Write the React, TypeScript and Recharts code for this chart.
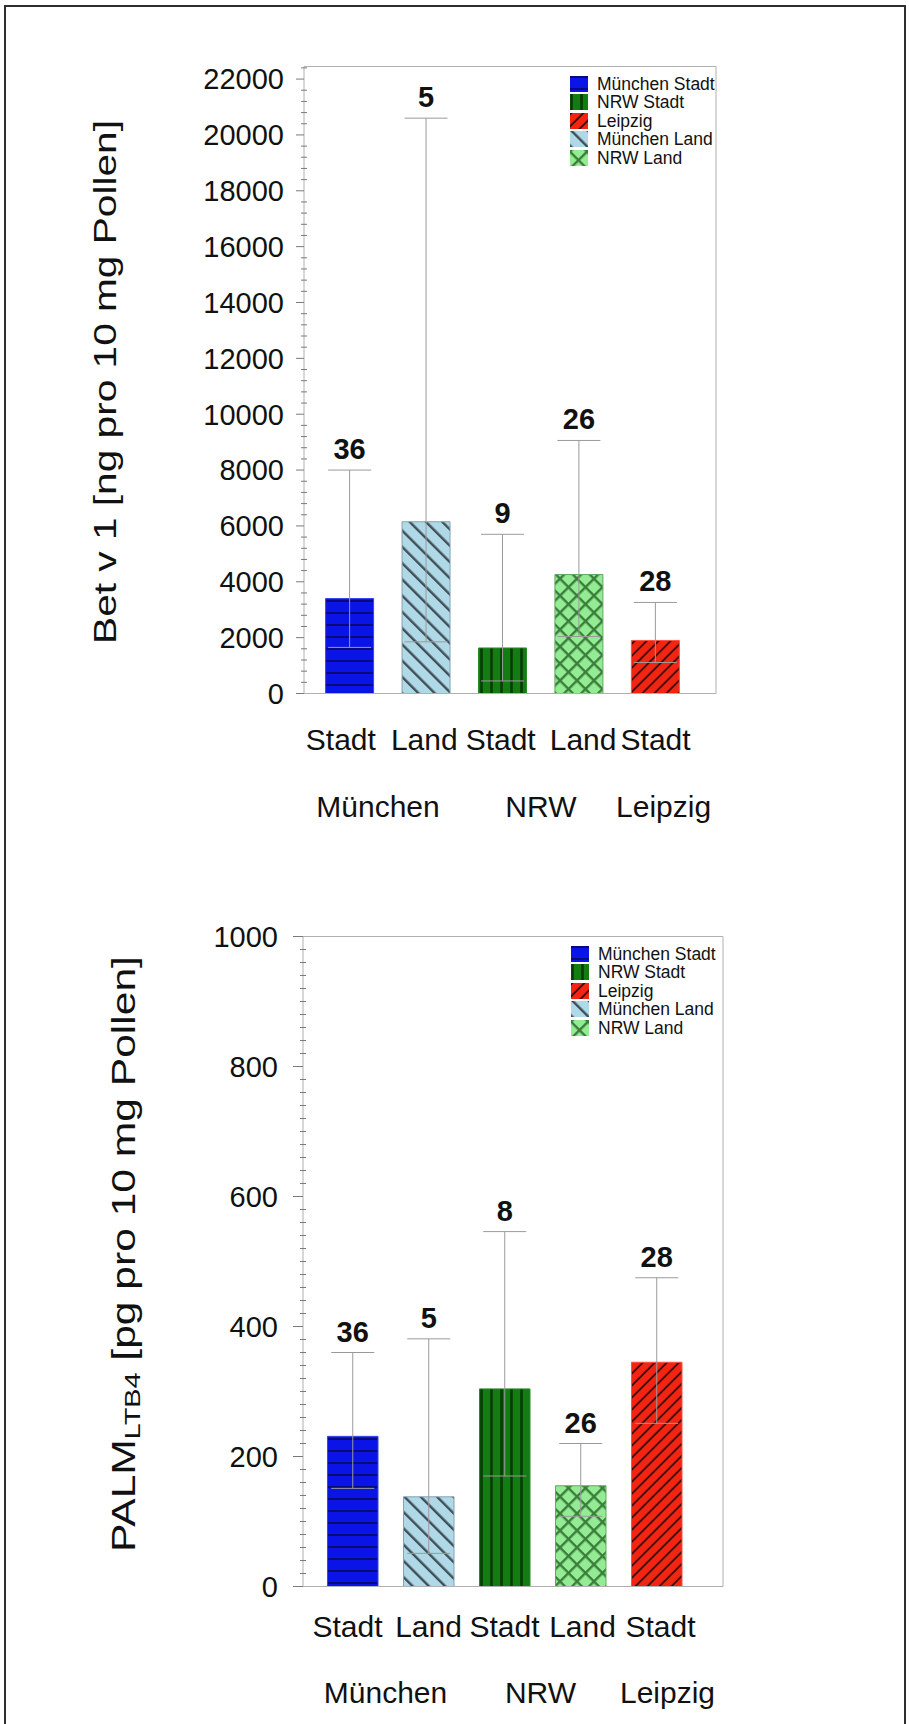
import React from 'react';
import { ComposedChart, Bar, XAxis, YAxis, ErrorBar, Cell, LabelList, Legend } from 'recharts';

const FONT = '"Liberation Sans", Arial, Helvetica, sans-serif';

// ---- categories ----
const subTypes = ['Stadt', 'Land', 'Stadt', 'Land', 'Stadt'];
const regions = ['München', 'München', 'NRW', 'NRW', 'Leipzig'];
const barKeys = ['ms', 'ml', 'ns', 'nl', 'le'];

// ---- Bet v 1 [ng pro 10 mg Pollen] ----
const betMean = [3400, 6150, 1630, 4260, 1900];
const betLow = [1650, 1850, 450, 2040, 1110];
const betHigh = [8000, 20600, 5700, 9060, 3260];
const betN = [36, 5, 9, 26, 28];
const betTicks = [0, 2000, 4000, 6000, 8000, 10000, 12000, 14000, 16000, 18000, 20000, 22000];

// ---- PALM LTB4 [pg pro 10 mg Pollen] ----
const palmMean = [231, 138, 304, 155, 345];
const palmLow = [151, 51, 170, 108, 251];
const palmHigh = [360, 381, 546, 220, 475];
const palmN = [36, 5, 8, 26, 28];
const palmTicks = [0, 200, 400, 600, 800, 1000];

// ---- legend ----
const legendLabels = ['München Stadt', 'NRW Stadt', 'Leipzig', 'München Land', 'NRW Land'];
const legendKeys = ['ms', 'ns', 'le', 'ml', 'nl'];

const strokeOf: Record<string, string> = {
  ms: '#3446f0',
  ml: '#86a2ae',
  ns: '#2a8a2a',
  nl: '#62a862',
  le: '#ff5040',
};

const AXIS = '#b0b0b0';
const TICK = '#7a7a7a';

const minorTicks = (max: number, step: number) => {
  const out: number[] = [];
  for (let v = 0; v <= max + 1e-9; v += step) out.push(Math.round(v * 1000) / 1000);
  return out;
};

type Cfg = {
  top: number;
  height: number;
  plotLeft: number;
  plotRight: number;
  plotTop: number;
  axisY: number;
  max: number;
  ticks: number[];
  minorStep: number;
  tickSize: number;
  tickMargin: number;
  barSize: number;
  padL: number;
  padR: number;
  labelDy: number;
  groupDy: number;
  labelNudge: number[];
  groupNudge: Record<string, number>;
  mean: number[];
  low: number[];
  high: number[];
  n: number[];
  legendLeft: number;
  legendTop: number;
  legendRow: number;
  title: { cx: number; cy: number; size: number; sx: number; main: string; sub?: string; rest?: string };
};

const topCfg: Cfg = {
  top: 0,
  height: 850,
  plotLeft: 304,
  plotRight: 716,
  plotTop: 66.5,
  axisY: 693.5,
  max: 22450,
  ticks: betTicks,
  minorStep: 400,
  tickSize: 8,
  tickMargin: 12,
  barSize: 48,
  padL: 7.6,
  padR: 22.2,
  labelDy: 56.5,
  groupDy: 123.5,
  labelNudge: [-9, -2, -2, 4, 0],
  groupNudge: { München: -10, NRW: 0, Leipzig: 8 },
  mean: betMean,
  low: betLow,
  high: betHigh,
  n: betN,
  legendLeft: 570,
  legendTop: 74.5,
  legendRow: 18.5,
  title: { cx: 116, cy: 382, size: 32, sx: 1.27, main: 'Bet v 1 [ng pro 10 mg Pollen]' },
};

const botCfg: Cfg = {
  top: 850,
  height: 874,
  plotLeft: 303,
  plotRight: 723,
  plotTop: 936.5,
  axisY: 1586.5,
  max: 1000,
  ticks: palmTicks,
  minorStep: 20,
  tickSize: 10,
  tickMargin: 15,
  barSize: 50.5,
  padL: 11.5,
  padR: 28.5,
  labelDy: 50.5,
  groupDy: 116.5,
  labelNudge: [-5, 0, 0, 2, 4],
  groupNudge: { München: -5, NRW: -2, Leipzig: 11 },
  mean: palmMean,
  low: palmLow,
  high: palmHigh,
  n: palmN,
  legendLeft: 571,
  legendTop: 94.5,
  legendRow: 18.5,
  title: { cx: 135, cy: 1254 - 850, size: 32.5, sx: 1.31, main: 'PALM', sub: 'LTB4', rest: ' [pg pro 10 mg Pollen]' },
};

const Patterns = () => (
  <svg width={0} height={0} style={{ position: 'absolute', left: 0, top: 0 }}>
    <defs>
      <pattern id="pat-ms" patternUnits="userSpaceOnUse" width={12} height={12}>
        <rect width={12} height={12} fill="#0a14e6" />
        <line x1={0} x2={12} y1={1} y2={1} stroke="#07086a" strokeWidth={1.8} />
      </pattern>
      <pattern id="pat-ns" patternUnits="userSpaceOnUse" width={10} height={10}>
        <rect width={10} height={10} fill="#137d14" />
        <line x1={1.5} x2={1.5} y1={0} y2={10} stroke="#063a06" strokeWidth={2.6} />
      </pattern>
      <pattern id="pat-le" patternUnits="userSpaceOnUse" width={8.5} height={8.5} patternTransform="rotate(45)">
        <rect width={8.5} height={8.5} fill="#f42412" />
        <line x1={1} x2={1} y1={0} y2={8.5} stroke="#3a0c08" strokeWidth={1.8} />
      </pattern>
      <pattern id="pat-ml" patternUnits="userSpaceOnUse" width={11.5} height={11.5} patternTransform="rotate(-45)">
        <rect width={11.5} height={11.5} fill="#afd9e6" />
        <line x1={1.2} x2={1.2} y1={0} y2={11.5} stroke="#3f4e58" strokeWidth={2.4} />
      </pattern>
      <pattern id="pat-nl" patternUnits="userSpaceOnUse" width={12} height={12} patternTransform="rotate(45)">
        <rect width={12} height={12} fill="#93eb93" />
        <line x1={1.2} x2={1.2} y1={0} y2={12} stroke="#3b7e3b" strokeWidth={2.4} />
        <line x1={0} x2={12} y1={1.2} y2={1.2} stroke="#3b7e3b" strokeWidth={2.4} />
      </pattern>
    </defs>
  </svg>
);

const TitleLabel = (props: any) => {
  const t = props.t;
  return (
    <g transform={`translate(${t.cx},${t.cy}) rotate(-90) scale(${t.sx},1)`}>
      <text x={0} y={0} textAnchor="middle" fontSize={t.size} fontFamily={FONT} fill="#111">
        {t.main}
        {t.sub ? (
          <tspan fontSize={22} dy={5}>
            {t.sub}
          </tspan>
        ) : null}
        {t.rest ? <tspan dy={-5}>{t.rest}</tspan> : null}
      </text>
    </g>
  );
};

function Panel({ cfg }: { cfg: Cfg }) {
  const data = cfg.mean.map((m, i) => ({
    name: `${regions[i]} ${subTypes[i]}`,
    mean: m,
    err: [m - cfg.low[i], cfg.high[i] - m],
    n: cfg.n[i],
    hi: cfg.high[i],
  }));
  const band = (cfg.plotRight - cfg.plotLeft - cfg.padL - cfg.padR) / data.length;
  const allTicks = minorTicks(cfg.max, cfg.minorStep);
  const majorSet = new Set(cfg.ticks);

  const yTick = (p: any) => {
    const { x, y, payload } = p;
    const v = payload.value;
    if (majorSet.has(v)) {
      return (
        <g>
          <line x1={x - cfg.tickSize} x2={x} y1={y} y2={y} stroke={TICK} strokeWidth={1} />
          <text
            x={x - cfg.tickSize - cfg.tickMargin}
            y={y}
            dy="0.355em"
            textAnchor="end"
            fontSize={29}
            fontFamily={FONT}
            fill="#111"
          >
            {v}
          </text>
        </g>
      );
    }
    return <line x1={x - 3} x2={x + 3} y1={y} y2={y} stroke={TICK} strokeWidth={1} />;
  };

  const xTick = (p: any) => {
    const { x, y, index } = p;
    const i = index;
    const reg = regions[i];
    const first = i === 0 || regions[i - 1] !== reg;
    let count = 0;
    for (let j = i; j < regions.length && regions[j] === reg; j++) count++;
    const gx = x + ((count - 1) * band) / 2 + (cfg.groupNudge[reg] || 0);
    return (
      <g>
        <text
          x={x + cfg.labelNudge[i]}
          y={y + cfg.labelDy}
          textAnchor="middle"
          fontSize={30}
          fontFamily={FONT}
          fill="#111"
        >
          {subTypes[i]}
        </text>
        {first ? (
          <text x={gx} y={y + cfg.groupDy} textAnchor="middle" fontSize={30} fontFamily={FONT} fill="#111">
            {reg}
          </text>
        ) : null}
      </g>
    );
  };

  const countLabel = (p: any) => {
    const vb = p.viewBox && p.viewBox.height !== undefined ? p.viewBox : p;
    const { x, y, width, height } = vb;
    const i = p.index;
    const d = data[i];
    if (!d) return null;
    const base = y + height;
    const per = height / d.mean;
    const yHi = base - d.hi * per;
    return (
      <text x={x + width / 2} y={yHi - 11} textAnchor="middle" fontSize={29} fontWeight="bold" fontFamily={FONT} fill="#111">
        {d.n}
      </text>
    );
  };

  const LegendContent = () => (
    <div style={{ fontFamily: FONT, fontSize: 17.5, color: '#111', whiteSpace: 'nowrap' }}>
      {legendLabels.map((l, i) => (
        <div key={l} style={{ display: 'flex', alignItems: 'center', height: cfg.legendRow }}>
          <svg width={18} height={16} style={{ marginRight: 9, display: 'block' }}>
            <rect x={0} y={0} width={18} height={16} fill={`url(#pat-${legendKeys[i]})`} />
          </svg>
          <span style={{ lineHeight: `${cfg.legendRow}px` }}>{l}</span>
        </div>
      ))}
    </div>
  );

  return (
    <ComposedChart
      width={909}
      height={cfg.height}
      data={data}
      margin={{ top: cfg.plotTop - cfg.top - 1, right: 909 - cfg.plotRight - 1, bottom: 0, left: cfg.plotLeft - 1 }}
    >
      <XAxis
        dataKey="name"
        height={cfg.top + cfg.height - cfg.axisY}
        padding={{ left: cfg.padL, right: cfg.padR }}
        tickSize={0}
        tickMargin={0}
        interval={0}
        tickLine={false}
        axisLine={{ stroke: AXIS }}
        tick={xTick}
      />
      <XAxis
        xAxisId="frame"
        orientation="top"
        dataKey="name"
        height={1}
        padding={{ left: cfg.padL, right: cfg.padR }}
        tick={false}
        tickLine={false}
        axisLine={{ stroke: AXIS }}
      />
      <YAxis
        domain={[0, cfg.max]}
        ticks={allTicks}
        interval={0}
        width={1}
        tickSize={0}
        tickMargin={0}
        tick={yTick}
        tickLine={false}
        axisLine={{ stroke: AXIS }}
        label={<TitleLabel t={cfg.title} />}
      />
      <YAxis
        yAxisId="frame"
        orientation="right"
        domain={[0, 1]}
        width={1}
        tick={false}
        tickLine={false}
        axisLine={{ stroke: AXIS }}
      />
      <Bar dataKey="mean" barSize={cfg.barSize} isAnimationActive={false}>
        {data.map((d, i) => (
          <Cell key={d.name} fill={`url(#pat-${barKeys[i]})`} stroke={strokeOf[barKeys[i]]} strokeWidth={1} />
        ))}
        <ErrorBar dataKey="err" width={21.5} stroke="#9a9a9a" strokeWidth={1} direction="y" isAnimationActive={false} />
        <LabelList dataKey="n" content={countLabel} />
      </Bar>
      <Legend
        layout="vertical"
        align="center"
        verticalAlign="middle"
        content={<LegendContent />}
        wrapperStyle={{ left: cfg.legendLeft, top: cfg.legendTop, width: 150, height: 95, bottom: 'auto', right: 'auto' }}
      />
    </ComposedChart>
  );
}

export default function App() {
  return (
    <div
      style={{
        position: 'absolute',
        left: 0,
        top: 0,
        width: 909,
        height: 1724,
        background: '#fff',
        overflow: 'hidden',
        fontFamily: FONT,
      }}
    >
      <Patterns />
      <div
        style={{
          position: 'absolute',
          left: 4,
          top: 5,
          width: 898,
          height: 1740,
          border: '2px solid #2e2e2e',
        }}
      />
      <div style={{ position: 'absolute', left: 0, top: topCfg.top }}>
        <Panel cfg={topCfg} />
      </div>
      <div style={{ position: 'absolute', left: 0, top: botCfg.top }}>
        <Panel cfg={botCfg} />
      </div>
    </div>
  );
}
